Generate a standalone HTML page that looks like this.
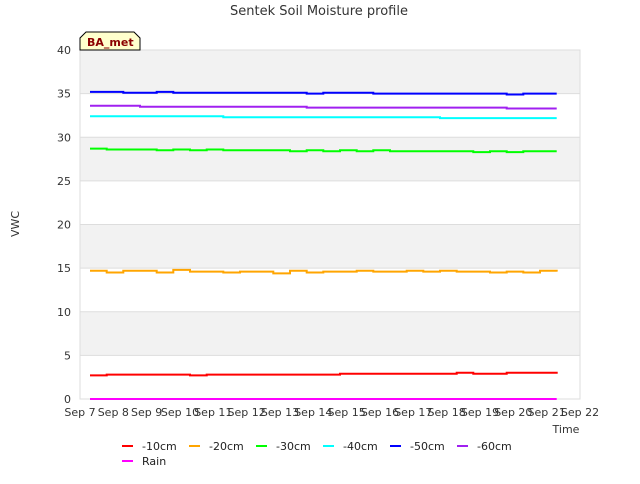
<!DOCTYPE html>
<html><head><meta charset="utf-8"><style>
body{margin:0;background:#fff;font-family:"DejaVu Sans","Liberation Sans",sans-serif;}
svg text{font-family:"DejaVu Sans","Liberation Sans",sans-serif;}
</style></head><body>
<svg id="chart" width="640" height="480" xmlns="http://www.w3.org/2000/svg">
<text x="319" y="15" text-anchor="middle" font-size="13" fill="#333">Sentek Soil Moisture profile</text>
<g id="plot"></g>
<text x="19" y="224" text-anchor="middle" font-size="11" fill="#333" transform="rotate(-90 19 224)">VWC</text>
<text x="566" y="433" text-anchor="middle" font-size="11" fill="#333">Time</text>
<g>
<path d="M80,50 L80,38 L86,32 L134,32 L140,38 L140,50 Z" fill="#ffffcc" stroke="#000" stroke-width="1"/>
<text x="87" y="46" font-size="11" font-weight="bold" fill="#8b0000">BA_met</text>
</g>
<g id="legend"></g>
</svg>
<script>
const yTicks=[0,5,10,15,20,25,30,35,40];
const xLabels=["Sep 7","Sep 8","Sep 9","Sep 10","Sep 11","Sep 12","Sep 13","Sep 14","Sep 15","Sep 16","Sep 17","Sep 18","Sep 19","Sep 20","Sep 21","Sep 22"];
const seriesNames=["-10cm","-20cm","-30cm","-40cm","-50cm","-60cm","Rain"];
const seriesColors=["#ff0000","#ffa500","#00ff00","#00ffff","#0000ff","#a020f0","#ff00ff"];
// values every 0.5 day from day 0.3 to day 14.3
const s10=[2.7,2.8,2.8,2.8,2.8,2.8,2.7,2.8,2.8,2.8,2.8,2.8,2.8,2.8,2.8,2.9,2.9,2.9,2.9,2.9,2.9,2.9,3.0,2.9,2.9,3.0,3.0,3.0,2.9];
const s20=[14.7,14.5,14.7,14.7,14.5,14.8,14.6,14.6,14.5,14.6,14.6,14.4,14.7,14.5,14.6,14.6,14.7,14.6,14.6,14.7,14.6,14.7,14.6,14.6,14.5,14.6,14.5,14.7,14.6];
const s30=[28.7,28.6,28.6,28.6,28.5,28.6,28.5,28.6,28.5,28.5,28.5,28.5,28.4,28.5,28.4,28.5,28.4,28.5,28.4,28.4,28.4,28.4,28.4,28.3,28.4,28.3,28.4,28.4,28.4];
const s40=[32.4,32.4,32.4,32.4,32.4,32.4,32.4,32.4,32.3,32.3,32.3,32.3,32.3,32.3,32.3,32.3,32.3,32.3,32.3,32.3,32.3,32.2,32.2,32.2,32.2,32.2,32.2,32.2,32.2];
const s50=[35.2,35.2,35.1,35.1,35.2,35.1,35.1,35.1,35.1,35.1,35.1,35.1,35.1,35.0,35.1,35.1,35.1,35.0,35.0,35.0,35.0,35.0,35.0,35.0,35.0,34.9,35.0,35.0,35.0];
const s60=[33.6,33.6,33.6,33.5,33.5,33.5,33.5,33.5,33.5,33.5,33.5,33.5,33.5,33.4,33.4,33.4,33.4,33.4,33.4,33.4,33.4,33.4,33.4,33.4,33.4,33.3,33.3,33.3,33.3];
const sRain=[0,0,0,0,0,0,0,0,0,0,0,0,0,0,0,0,0,0,0,0,0,0,0,0,0,0,0,0,0];
const allSeries=[s10,s20,s30,s40,s50,s60,sRain];
const startDay=0.3, stepDay=0.5;

const NS="http://www.w3.org/2000/svg";
const L=80,R=580,T=50,B=399;
const xScale=d=>L+(R-L)*d/15;
const yScale=v=>B-(B-T)*v/40;
const plot=document.getElementById('plot');
function mk(tag,attrs,parent){const e=document.createElementNS(NS,tag);for(const k in attrs)e.setAttribute(k,attrs[k]);parent.appendChild(e);return e;}
for(let i=0;i<yTicks.length-1;i++){
  const r=mk('rect',{x:L,y:yScale(yTicks[i+1]),width:R-L,height:yScale(yTicks[i])-yScale(yTicks[i+1]),fill:(i%2==1)?'#f2f2f2':'#ffffff'},plot);
  
  
}
yTicks.forEach(v=>{
  const l=mk('line',{x1:L,x2:R,y1:yScale(v),y2:yScale(v),stroke:'#dddddd','stroke-width':1},plot);
  
  
  const t=mk('text',{x:L-9,y:yScale(v)+4,'text-anchor':'end','font-size':11,fill:'#333'},plot);
  t.textContent=v;
  
  
});
const fr=mk('rect',{x:L,y:T,width:R-L,height:B-T,fill:'none',stroke:'#dddddd'},plot);


xLabels.forEach((s,i)=>{
  const t=mk('text',{x:xScale(i),y:416,'text-anchor':'middle','font-size':11,fill:'#333'},plot);
  t.textContent=s;
  
  
});
allSeries.forEach((arr,si)=>{
  let d='';
  arr.forEach((v,i)=>{
    const x0=xScale(startDay+i*stepDay), x1=xScale(startDay+Math.min(i+1,arr.length-1)*stepDay);
    d+=(i==0?'M':'L')+x0.toFixed(1)+','+yScale(v).toFixed(1)+' L'+x1.toFixed(1)+','+yScale(v).toFixed(1)+' ';
  });
  const p=mk('path',{d:d,fill:'none',stroke:seriesColors[si],'stroke-width':2},plot);
  
  
});
const lg=document.getElementById('legend');
seriesNames.forEach((n,i)=>{
  const col=i%6,row=Math.floor(i/6);
  const x=122+col*67,y=446+row*15;
  const g=mk('g',{},lg);
  
  
  mk('line',{x1:x,x2:x+11,y1:y,y2:y,stroke:seriesColors[i],'stroke-width':2},g);
  const t=mk('text',{x:x+20,y:y+4,'font-size':11,fill:'#222'},g);
  t.textContent=n;
});
</script>
</body></html>
